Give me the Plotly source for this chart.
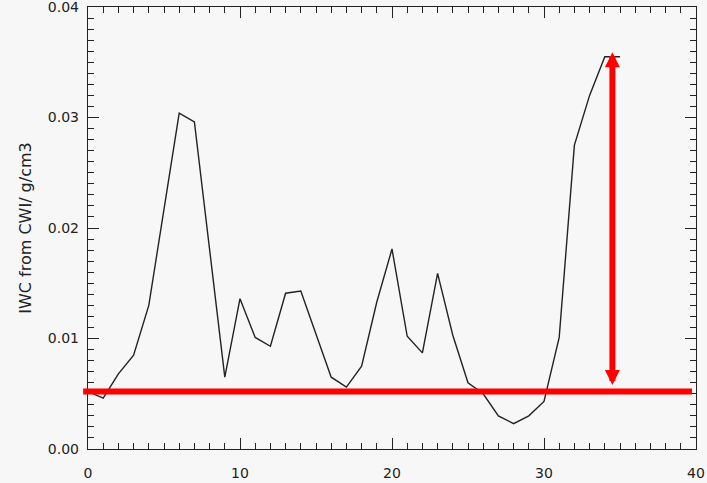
import plotly.graph_objects as go

# Sample index along the track
sample = list(range(36))

# Ice water content derived from CWI (g/cm3)
iwc = [0.0052, 0.0046, 0.0068, 0.0085, 0.0130, 0.0217, 0.0304, 0.0296, 0.0180, 0.0065,
       0.0136, 0.0101, 0.0093, 0.0141, 0.0143, 0.0103, 0.0065, 0.0056, 0.0075, 0.0133,
       0.0181, 0.0102, 0.0087, 0.0159, 0.0103, 0.0060, 0.0050, 0.0030, 0.0023, 0.0030,
       0.0043, 0.0101, 0.0275, 0.0320, 0.0355, 0.0355]

# Background level and the span marked by the double arrow
baseline = 0.0052
arrow_x = 34.5
arrow_top = 0.0359
arrow_bottom = 0.00566

x_ticks = [0, 10, 20, 30, 40]
y_ticks = [0.00, 0.01, 0.02, 0.03, 0.04]

ink = "#222222"
red = "#ff0000"
bg = "#f7f7f7"

fig = go.Figure()

fig.add_trace(go.Scatter(
    x=sample, y=iwc, mode="lines",
    line=dict(color=ink, width=1.4),
    showlegend=False, hoverinfo="skip",
))

# Horizontal baseline, running slightly past the left axis
fig.add_shape(
    type="line", xref="paper", yref="y",
    x0=-0.008, x1=0.9935, y0=baseline, y1=baseline,
    line=dict(color=red, width=6), layer="above",
)

# Double-headed arrow from the baseline up to the final peak
fig.add_annotation(
    x=arrow_x, y=arrow_top, ax=arrow_x, ay=arrow_bottom,
    xref="x", yref="y", axref="x", ayref="y",
    text="", showarrow=True,
    arrowhead=2, startarrowhead=2, arrowside="end+start",
    arrowsize=0.5, startarrowsize=0.5,
    arrowwidth=6, arrowcolor=red,
)

axis_common = dict(
    showline=True, linecolor=ink, linewidth=1.4, mirror="ticks",
    ticks="inside", tickcolor=ink, tickwidth=1.4,
    showgrid=False, zeroline=False, ticklabeloverflow="allow",
)

fig.update_xaxes(
    range=[0, 40], tickmode="array", tickvals=x_ticks,
    ticklen=11, ticklabelstandoff=11,
    tickfont=dict(family="DejaVu Sans", size=14, color=ink),
    minor=dict(ticks="inside", dtick=1, ticklen=6, tickcolor=ink, tickwidth=1.4),
    **axis_common,
)

fig.update_yaxes(
    range=[0, 0.04], tickmode="array", tickvals=y_ticks,
    ticktext=[f"{v:.2f}" for v in y_ticks],
    ticklen=11, ticklabelstandoff=5,
    tickfont=dict(family="DejaVu Sans", size=14, color=ink),
    minor=dict(ticks="inside", dtick=0.001, ticklen=6, tickcolor=ink, tickwidth=1.4),
    title=dict(text="IWC from CWI/ g/cm3", standoff=12,
               font=dict(family="DejaVu Sans", size=16, color=ink)),
    **axis_common,
)

fig.update_layout(
    width=707, height=483,
    margin=dict(l=88, r=11, t=7, b=34, autoexpand=False),
    paper_bgcolor=bg, plot_bgcolor=bg,
    showlegend=False,
)

fig.write_html("out.html")
